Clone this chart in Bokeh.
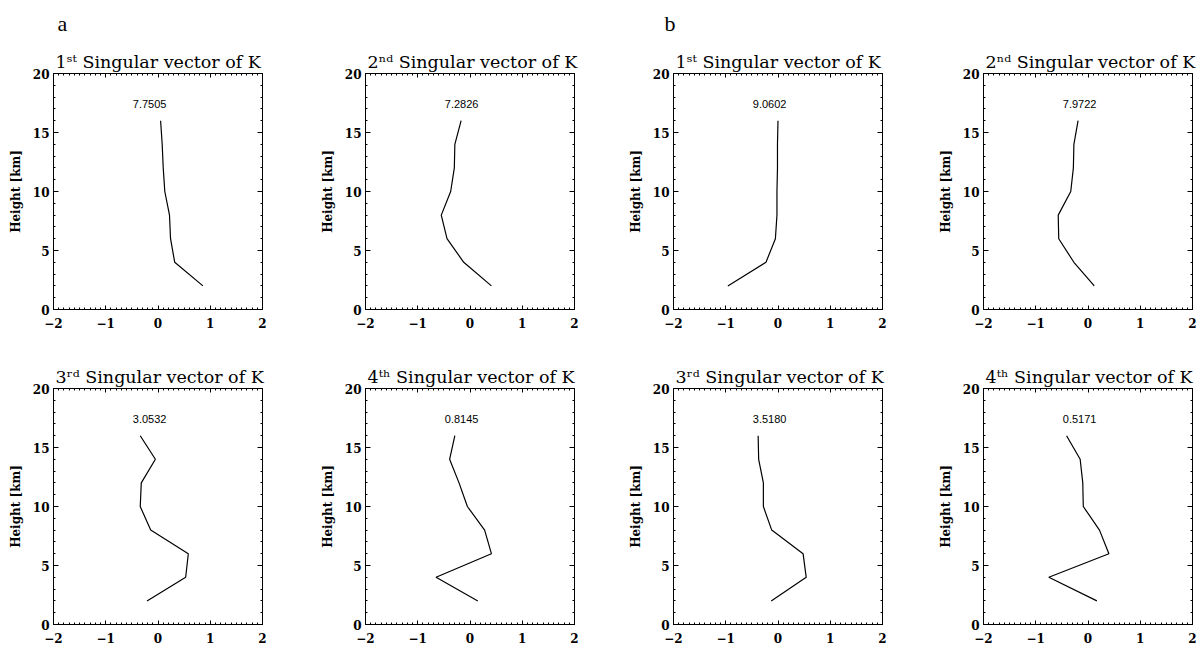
from bokeh.plotting import figure
from bokeh.models import LinearAxis, Title, Range1d, SingleIntervalTicker
from bokeh.layouts import row, column
from bokeh.core.properties import value
from bokeh.embed import file_html
from bokeh.resources import INLINE

# ---------------- data ----------------
heights = [2, 4, 6, 8, 10, 12, 14, 16]

a_sv1 = [0.86, 0.32, 0.24, 0.22, 0.13, 0.10, 0.08, 0.05]
a_sv2 = [0.41, -0.12, -0.44, -0.55, -0.37, -0.30, -0.29, -0.17]
a_sv3 = [-0.21, 0.53, 0.58, -0.14, -0.34, -0.32, -0.05, -0.34]
a_sv4 = [0.15, -0.65, 0.41, 0.28, -0.05, -0.21, -0.39, -0.29]

b_sv1 = [-0.96, -0.23, -0.05, -0.02, -0.02, -0.01, -0.01, 0.0]
b_sv2 = [0.12, -0.27, -0.56, -0.57, -0.33, -0.28, -0.27, -0.19]
b_sv3 = [-0.13, 0.54, 0.48, -0.12, -0.28, -0.28, -0.37, -0.38]
b_sv4 = [0.17, -0.75, 0.40, 0.22, -0.09, -0.10, -0.15, -0.41]

a_values = ["7.7505", "7.2826", "3.0532", "0.8145"]
b_values = ["9.0602", "7.9722", "3.5180", "0.5171"]

titles = ["1ˢᵗ Singular vector of K", "2ⁿᵈ Singular vector of K",
          "3ʳᵈ Singular vector of K", "4ᵗʰ Singular vector of K"]

x_tick_labels = {-2: "\u22122", -1: "\u22121", 0: "0", 1: "1", 2: "2"}
y_tick_labels = {0: "0", 5: "5", 10: "10", 15: "15", 20: "20"}

value_label_x = -0.16
value_label_y = 17.4

# ---------------- layout ----------------
FW, FH = 209, 236
col_left = [53, 51, 51, 51]
col_right = [52, 48, 50, 10]
row_top = [73, 45]
row_bottom = [34, 25]

SERIF = "DejaVu Serif"


def style_axis(ax, interval, minor, labels, overrides, standoff, tick_len):
    ax.ticker = SingleIntervalTicker(interval=interval, num_minor_ticks=minor)
    ax.axis_line_color = "black"
    ax.axis_line_width = 1
    ax.major_tick_line_color = "black"
    ax.minor_tick_line_color = "black"
    ax.major_tick_in = tick_len
    ax.major_tick_out = 0
    ax.minor_tick_in = 2
    ax.minor_tick_out = 0
    if labels:
        ax.major_label_overrides = overrides
        ax.major_label_text_font = SERIF
        ax.major_label_text_font_style = "bold"
        ax.major_label_text_font_size = "12px"
        ax.major_label_text_color = "black"
        ax.major_label_standoff = standoff
    else:
        ax.major_label_text_color = None
        ax.major_label_text_font_size = "1px"
        ax.major_label_standoff = 0


def make_panel(xs, label, title, r, c, tag=None, tag_offset=0):
    p = figure(frame_width=FW, frame_height=FH,
               x_range=Range1d(-2, 2), y_range=Range1d(0, 20),
               output_backend="svg", toolbar_location=None, title=None,
               min_border_left=col_left[c], min_border_right=col_right[c],
               min_border_top=row_top[r], min_border_bottom=row_bottom[r])
    p.xgrid.visible = False
    p.ygrid.visible = False
    p.outline_line_color = "black"
    p.background_fill_color = "white"
    p.border_fill_color = "white"

    style_axis(p.xaxis[0], 1, 10, True, x_tick_labels, 8, 4)
    style_axis(p.yaxis[0], 5, 5, True, y_tick_labels, 4, 5)
    p.yaxis[0].axis_label = "Height [km]"
    p.yaxis[0].axis_label_text_font = SERIF
    p.yaxis[0].axis_label_text_font_style = "bold"
    p.yaxis[0].axis_label_text_font_size = "12px"
    p.yaxis[0].axis_label_text_color = "black"
    p.yaxis[0].axis_label_standoff = 7

    top = LinearAxis()
    style_axis(top, 1, 10, False, None, 0, 4)
    p.add_layout(top, "above")
    right = LinearAxis()
    style_axis(right, 5, 5, False, None, 0, 5)
    p.add_layout(right, "right")

    p.add_layout(Title(text=title, align="left", offset=2, standoff=4,
                       text_font=SERIF, text_font_style="normal",
                       text_font_size="17.5px", text_color="black"), "above")
    if tag is not None:
        p.add_layout(Title(text=tag, align="left", offset=tag_offset, standoff=19,
                           vertical_align="top",
                           text_font="Liberation Serif", text_font_style="normal",
                           text_font_size="22px", text_color="black"), "above")

    p.line(xs, heights, line_color="black", line_width=1.2)
    p.text(x=[value_label_x], y=[value_label_y], text=[label],
           text_font=value("Liberation Sans"), text_font_size="11px",
           text_align="center", text_baseline="middle", text_color="black")
    return p


top_row = row(
    make_panel(a_sv1, a_values[0], titles[0], 0, 0, tag="a", tag_offset=4),
    make_panel(a_sv2, a_values[1], titles[1], 0, 1),
    make_panel(b_sv1, b_values[0], titles[0], 0, 2, tag="b", tag_offset=-9),
    make_panel(b_sv2, b_values[1], titles[1], 0, 3),
)
bottom_row = row(
    make_panel(a_sv3, a_values[2], titles[2], 1, 0),
    make_panel(a_sv4, a_values[3], titles[3], 1, 1),
    make_panel(b_sv3, b_values[2], titles[2], 1, 2),
    make_panel(b_sv4, b_values[3], titles[3], 1, 3),
)
layout = column(top_row, bottom_row)

open("out.html", "w").write(file_html(layout, INLINE))
